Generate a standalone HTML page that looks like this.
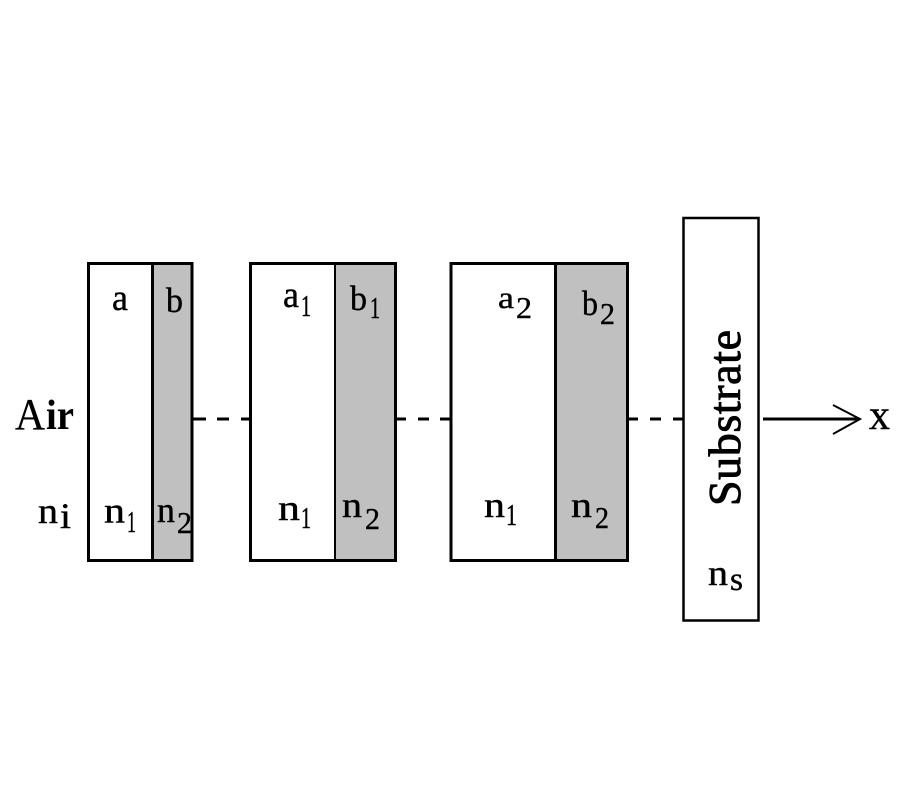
<!DOCTYPE html>
<html><head><meta charset="utf-8"><style>
html,body{margin:0;padding:0;background:#fff}
svg{display:block}
text{font-family:"Liberation Serif",serif;fill:#000;stroke:#000;stroke-width:.4px;font-size:36px}
.a{font-size:37px}
.b{font-size:35px}
.s{font-size:31px}
</style></head><body>
<svg width="900" height="800" viewBox="0 0 900 800" xmlns="http://www.w3.org/2000/svg">
<rect width="900" height="800" fill="#fff"/>
<g stroke="#000" stroke-width="3">
<rect x="152.5" y="263.5" width="39.5" height="297" fill="#c0c0c0" stroke="none"/>
<rect x="335" y="263.5" width="60.5" height="297" fill="#c0c0c0" stroke="none"/>
<rect x="555" y="263.5" width="72.5" height="297" fill="#c0c0c0" stroke="none"/>
<rect x="88.5" y="263.5" width="103.5" height="297" fill="none"/>
<line x1="152.5" y1="263.5" x2="152.5" y2="560.5"/>
<rect x="250.5" y="263.5" width="145" height="297" fill="none"/>
<line x1="335" y1="263.5" x2="335" y2="560.5" stroke-width="2"/>
<rect x="451" y="263.5" width="176.5" height="297" fill="none"/>
<line x1="555.5" y1="263.5" x2="555.5" y2="560.5"/>
<rect x="683.5" y="218" width="75" height="402.5" fill="#fff" stroke-width="2.5"/>
<path d="M193 419H206M217 419H229M241 419H250M397 419H406M418 419H429M440 419H451M628 419H638M650 419H661M673 419H683M763 419H860" fill="none"/>
<path d="M833 405L860 419L833 434" fill="none" stroke-width="2" stroke-linejoin="miter"/>
</g>
<text x="15" y="429" style="font-size:44px;stroke-width:.2px" textLength="30" lengthAdjust="spacingAndGlyphs">A</text>
<text x="46" y="429" style="font-size:42px;font-weight:bold;stroke-width:0" textLength="28" lengthAdjust="spacingAndGlyphs">ir</text>
<text x="38" y="523" textLength="20" lengthAdjust="spacingAndGlyphs">n</text>
<text x="60" y="528" style="font-size:36px" textLength="11" lengthAdjust="spacingAndGlyphs">i</text>

<text x="112" y="310" class="a" textLength="16" lengthAdjust="spacingAndGlyphs">a</text>
<text x="166" y="312" class="b" textLength="17" lengthAdjust="spacingAndGlyphs">b</text>
<text x="104" y="522.5" textLength="21" lengthAdjust="spacingAndGlyphs">n</text>
<text x="127" y="532" class="s" textLength="9" lengthAdjust="spacingAndGlyphs">1</text>
<text x="157" y="522" textLength="18" lengthAdjust="spacingAndGlyphs">n</text>
<text x="177" y="533" class="s" textLength="15" lengthAdjust="spacingAndGlyphs">2</text>

<text x="283" y="307" class="a" textLength="16" lengthAdjust="spacingAndGlyphs">a</text>
<text x="301" y="316" class="s" textLength="10" lengthAdjust="spacingAndGlyphs">1</text>
<text x="350" y="310" class="b" textLength="17" lengthAdjust="spacingAndGlyphs">b</text>
<text x="370" y="318" class="s" textLength="10" lengthAdjust="spacingAndGlyphs">1</text>
<text x="278" y="520" textLength="22" lengthAdjust="spacingAndGlyphs">n</text>
<text x="301" y="528" class="s" textLength="10" lengthAdjust="spacingAndGlyphs">1</text>
<text x="342" y="517" textLength="20" lengthAdjust="spacingAndGlyphs">n</text>
<text x="365" y="529" class="s" textLength="15" lengthAdjust="spacingAndGlyphs">2</text>

<text x="498" y="308" style="font-size:31px" textLength="16" lengthAdjust="spacingAndGlyphs">a</text>
<text x="516" y="318" class="s" textLength="16" lengthAdjust="spacingAndGlyphs">2</text>
<text x="582" y="315" class="b" textLength="16" lengthAdjust="spacingAndGlyphs">b</text>
<text x="600" y="324" class="s" textLength="15" lengthAdjust="spacingAndGlyphs">2</text>
<text x="484" y="517" textLength="21" lengthAdjust="spacingAndGlyphs">n</text>
<text x="506" y="525" class="s" textLength="11" lengthAdjust="spacingAndGlyphs">1</text>
<text x="571" y="517" textLength="21" lengthAdjust="spacingAndGlyphs">n</text>
<text x="595" y="528" class="s" textLength="14" lengthAdjust="spacingAndGlyphs">2</text>

<text transform="translate(740 506) rotate(-90)" style="font-size:46px;stroke-width:.9px" textLength="176" lengthAdjust="spacing">Substrate</text>
<text x="708" y="585" textLength="20" lengthAdjust="spacingAndGlyphs">n</text>
<text x="730" y="590" style="font-size:33px" textLength="13" lengthAdjust="spacingAndGlyphs">s</text>
<text x="869" y="429" style="font-size:42px" textLength="21" lengthAdjust="spacingAndGlyphs">x</text>
</svg>
</body></html>
